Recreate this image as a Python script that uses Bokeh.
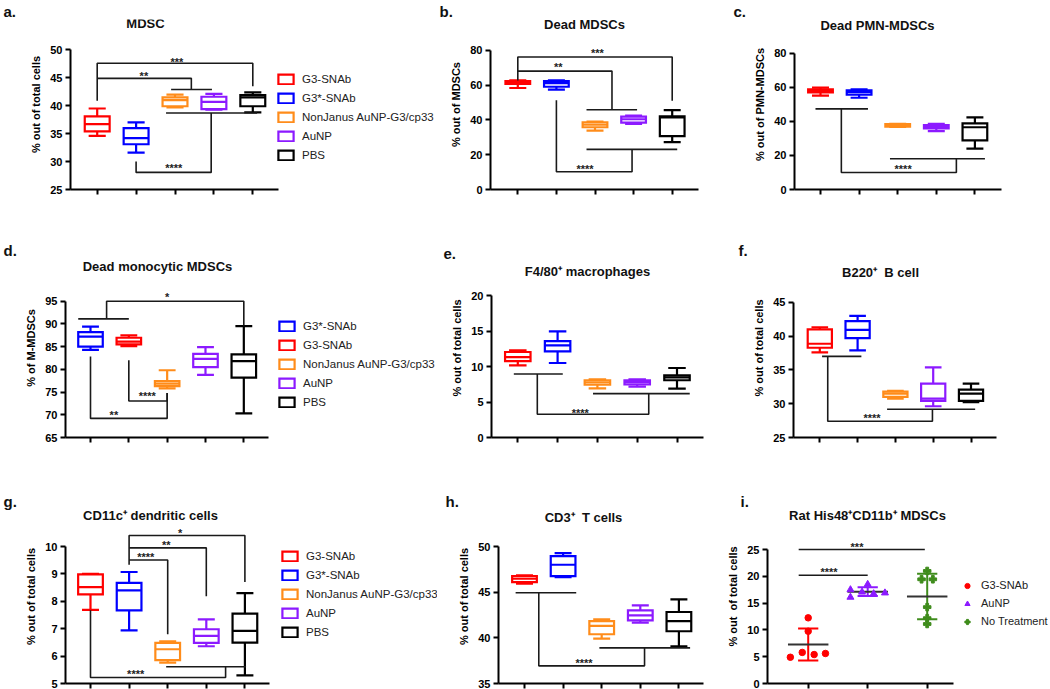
import numpy as np
from bokeh.plotting import figure
from bokeh.layouts import column, row
from bokeh.models import Label, Legend, LegendItem, FixedTicker, Range1d, ColumnDataSource, Title
from bokeh.embed import file_html
from bokeh.resources import INLINE

# ---------------- data ----------------
box_groups = ["G3-SNAb", "G3*-SNAb", "NonJanus AuNP-G3/cp33", "AuNP", "PBS"]
box_groups_d = ["G3*-SNAb", "G3-SNAb", "NonJanus AuNP-G3/cp33", "AuNP", "PBS"]

a_low = [34.6, 31.6, 39.7, 39.3, 38.8]
a_q1 = [35.4, 33.1, 39.9, 39.4, 39.9]
a_med = [36.7, 34.2, 41.0, 40.7, 41.5]
a_q3 = [38.1, 36.0, 41.5, 41.6, 41.9]
a_high = [39.5, 37.0, 42.0, 42.1, 42.4]

b_low = [58.4, 57.4, 33.9, 37.7, 27.3]
b_q1 = [60.7, 59.1, 35.8, 38.5, 30.7]
b_med = [61.6, 61.2, 37.3, 40.4, 41.5]
b_q3 = [62.4, 62.4, 38.7, 41.9, 42.1]
b_high = [62.8, 62.8, 39.0, 42.5, 45.7]

c_low = [55.1, 53.8, 36.7, 34.2, 24.0]
c_q1 = [57.0, 55.7, 36.9, 35.8, 28.8]
c_med = [57.8, 57.2, 37.7, 36.7, 36.5]
c_q3 = [58.7, 58.2, 38.3, 37.7, 38.8]
c_high = [59.7, 58.7, 38.5, 38.5, 42.3]

d_low = [84.3, 85.1, 75.8, 78.8, 70.3]
d_q1 = [85.0, 85.5, 76.3, 80.5, 78.2]
d_med = [87.2, 86.1, 76.85, 82.3, 81.8]
d_q3 = [88.2, 86.95, 77.4, 83.4, 83.3]
d_high = [89.4, 87.5, 79.8, 84.9, 89.5]

e_low = [10.16, 10.49, 6.93, 7.17, 6.89]
e_q1 = [10.77, 12.13, 7.45, 7.49, 8.06]
e_med = [11.33, 12.97, 7.78, 7.82, 8.48]
e_q3 = [12.04, 13.58, 8.06, 8.06, 8.76]
e_high = [12.27, 14.94, 8.2, 8.2, 9.79]

f_low = [37.58, 37.87, 30.75, 29.62, 30.21]
f_q1 = [38.27, 39.7, 31.0, 30.4, 30.4]
f_med = [38.86, 40.92, 31.49, 30.75, 31.49]
f_q3 = [40.97, 42.2, 31.78, 32.96, 32.08]
f_high = [41.3, 42.98, 31.88, 35.37, 32.96]

g_low = [7.69, 6.94, 5.76, 6.36, 5.30]
g_q1 = [8.25, 7.67, 5.85, 6.48, 6.49]
g_med = [8.52, 8.40, 6.25, 6.74, 6.92]
g_q3 = [8.98, 8.67, 6.48, 6.98, 7.55]
g_high = [9.0, 9.07, 6.54, 7.34, 8.30]

h_low = [45.92, 46.65, 39.91, 41.66, 39.08]
h_q1 = [46.1, 46.76, 40.39, 41.92, 40.72]
h_med = [46.47, 48.0, 41.3, 42.46, 41.84]
h_q3 = [46.76, 48.94, 41.84, 43.0, 42.83]
h_high = [46.83, 49.27, 42.03, 43.55, 44.21]

i_groups = ["G3-SNAb", "AuNP", "No Treatment"]
i_g3 = [4.9, 5.8, 12.25, 9.75, 5.4, 5.6]
i_g3_dx = [-0.30, -0.10, 0.0, 0.0, 0.10, 0.29]
i_aunp = [17.5, 16.1, 17.06, 18.5, 16.75, 16.9]
i_aunp_dx = [-0.29, -0.29, -0.095, 0.0, 0.10, 0.29]
i_nt = [21.0, 19.44, 19.44, 14.25, 12.19, 11.1]
i_nt_dx = [0.0, -0.095, 0.095, 0.0, 0.0, 0.0]

# significance annotations: brackets (x_left, x_right, y_bar, y_left_end, y_right_end)
a_brackets = [(1, 5, 47.6, 40.9, 43.5), (1, 3.42, 44.9, 44.9, 42.9), (2, 3.93, 28.06, 30.0, 38.7)]
a_groups = [(2.9, 3.95, 42.9), (2.77, 5.11, 38.7)]
a_stars = [(3.05, 48.4, "***"), (2.2, 45.9, "**"), (2.97, 29.4, "****")]

b_brackets = [(1, 5, 76.2, 62.7, 51.0), (1, 3.44, 68.1, 68.1, 45.9), (2, 3.96, 10.2, 51.4, 23.1)]
b_groups = [(2.78, 4.09, 45.9), (2.78, 5.13, 23.1)]
b_stars = [(3.06, 80.4, "***"), (2.05, 72.2, "**"), (2.74, 13.6, "****")]

c_brackets = [(1.54, 4.52, 10.0, 47.3, 18.0)]
c_groups = [(0.87, 2.23, 47.3), (2.80, 5.26, 18.0)]
c_stars = [(3.14, 13.9, "****")]

d_brackets = [(1.42, 5, 95.0, 91.1, 89.66), (1, 3, 69.2, 82.85, 74.8), (2, 3, 73.05, 82.0, 74.8)]
d_groups = [(0.68, 2.0, 91.1)]
d_stars = [(3.0, 96.6, "*"), (2.48, 74.9, "****"), (1.61, 70.6, "**")]

e_brackets = [(1.49, 4.29, 3.28, 8.95, 6.18)]
e_groups = [(0.9, 2.13, 8.95), (2.89, 5.32, 6.18)]
e_stars = [(2.57, 3.93, "****")]

f_brackets = [(1.21, 3.98, 27.41, 36.99, 29.18)]
f_groups = [(1.06, 2.1, 36.99), (2.78, 5.11, 29.18)]
f_stars = [(2.38, 28.3, "****")]

g_brackets = [(2, 5, 10.4, 9.33, 8.70), (2, 4, 9.95, 9.95, 8.18), (2, 3, 9.51, 9.51, 6.80), (1, 4.5, 5.22, 7.67, 5.61)]
g_groups = [(2.96, 5.03, 5.61)]
g_stars = [(3.32, 10.62, "*"), (2.96, 10.16, "**"), (2.43, 9.71, "****"), (2.17, 5.46, "****")]

h_brackets = [(1.37, 4.11, 36.93, 44.94, 38.9)]
h_groups = [(0.77, 2.34, 44.94), (2.94, 5.29, 38.9)]
h_stars = [(2.54, 37.55, "****")]

i_brackets = [(0.84, 2.96, 25.0, 25.0, 25.0), (0.84, 2.0, 20.2, 20.2, 20.2)]
i_stars = [(1.82, 26.0, "***"), (1.35, 21.4, "****")]

# ---------------- style / layout ----------------
FONT = "Liberation Sans"
RED, BLUE, ORANGE, PURPLE, BLACK = "#ff0000", "#0000ff", "#ff8c1a", "#8c1aff", "#000000"
GREEN = "#3f8c1c"
colors_std = [RED, BLUE, ORANGE, PURPLE, BLACK]
colors_d = [BLUE, RED, ORANGE, PURPLE, BLACK]
INK = "#1a1a1a"

COL_X = [0, 437, 720, 1050]
ROW_Y = [0, 230, 460, 689]
ROW_TOP = [17, 28, 49]


def make_panel(ci, ri, lay, ylo, yhi, yticks, ylabel, ncat=5):
    FL, FR, AT, FB, c1, s = lay
    cl, cr = COL_X[ci], COL_X[ci + 1]
    rt, rb = ROW_Y[ri], ROW_Y[ri + 1]
    W, H = cr - cl, rb - rt
    bl = int(round(FL - cl))
    bb = int(round(rb - FB))
    bt = ROW_TOP[ri]
    f_left = cl + bl
    f_bottom = rb - bb
    fw, fh = W - bl, H - bb - bt
    x0 = 1 + (f_left - c1) / s
    x1 = x0 + fw / s
    k = (f_bottom - AT) / (yhi - ylo)
    y0 = ylo
    y1 = y0 + fh / k
    p = figure(width=W, height=H, x_range=Range1d(x0, x1), y_range=Range1d(y0, y1),
               min_border_left=bl, min_border_right=0, min_border_top=bt, min_border_bottom=bb,
               output_backend="svg", toolbar_location=None, outline_line_color=None)
    p.grid.visible = False
    p.xaxis.ticker = FixedTicker(ticks=[], minor_ticks=list(range(1, ncat + 1)))
    p.xaxis.major_label_standoff = 0
    p.xaxis.bounds = (x0, 1 + (FR - c1) / s)
    p.yaxis.ticker = FixedTicker(ticks=yticks, minor_ticks=[])
    p.yaxis.bounds = (ylo, yhi)
    for ax in (p.xaxis[0], p.yaxis[0]):
        ax.axis_line_width = 2
        ax.axis_line_color = "black"
        ax.major_tick_line_width = 2
        ax.major_tick_line_color = "black"
        ax.major_tick_out = 5
        ax.major_tick_in = 0
    p.xaxis.minor_tick_out = 5
    p.xaxis.minor_tick_in = 0
    p.xaxis.minor_tick_line_width = 2
    p.xaxis.minor_tick_line_color = "black"
    p.yaxis.minor_tick_out = 0
    p.yaxis.minor_tick_in = 0
    p.yaxis.major_label_text_font = FONT
    p.yaxis.major_label_text_font_size = "11px"
    p.yaxis.major_label_text_font_style = "bold"
    p.yaxis.major_label_text_color = "black"
    p.yaxis.major_label_standoff = 3
    p.yaxis.axis_label = ylabel
    p.yaxis.axis_label_text_font = FONT
    p.yaxis.axis_label_text_font_size = "11px"
    p.yaxis.axis_label_text_font_style = "bold"
    p.yaxis.axis_label_text_color = "black"
    p.yaxis.axis_label_standoff = 5
    return p, f_left, f_bottom


def img_text(p, fl, fb, x, y, text, size, align="center", bold=True):
    p.add_layout(Label(x=x - fl, y=fb - y, x_units="screen", y_units="screen", text=text,
                       text_font=FONT, text_font_size=size,
                       text_font_style="bold" if bold else "normal",
                       text_align=align, text_baseline="middle", text_color="#111111"))


def add_letter(p, fl, x, text):
    p.add_layout(Title(text=text, align="left", offset=x - fl, standoff=0, text_font=FONT,
                       text_font_size="15px", text_font_style="bold", text_color="#111111"), "above")


def draw_boxes(p, low, q1, med, q3, high, colors):
    x = np.arange(1, len(low) + 1, dtype=float)
    src = ColumnDataSource(dict(x=x, lo=low, q1=q1, med=med, q3=q3, hi=high, color=colors,
                                bl=x - 0.32, br=x + 0.32, cl=x - 0.22, cr=x + 0.22))
    p.segment(x0="x", y0="lo", x1="x", y1="q1", source=src, line_color="color", line_width=2.2)
    p.segment(x0="x", y0="q3", x1="x", y1="hi", source=src, line_color="color", line_width=2.2)
    p.segment(x0="cl", y0="lo", x1="cr", y1="lo", source=src, line_color="color", line_width=2.2)
    p.segment(x0="cl", y0="hi", x1="cr", y1="hi", source=src, line_color="color", line_width=2.2)
    r = p.quad(left="bl", right="br", bottom="q1", top="q3", source=src, fill_color="white",
               line_color="color", line_width=2.2, line_join="miter")
    p.segment(x0="bl", y0="med", x1="br", y1="med", source=src, line_color="color", line_width=2.2)
    return r


def draw_sig(p, brackets, groups, stars):
    xs, ys = [], []
    for (xl, xr, yb, yle, yre) in brackets:
        xs.append([xl, xl, xr, xr])
        ys.append([yle, yb, yb, yre])
    for (ga, gb, gy) in groups:
        xs.append([ga, gb])
        ys.append([gy, gy])
    p.multi_line(xs=xs, ys=ys, line_color=INK, line_width=1.6)
    for (sx, sy, st) in stars:
        p.add_layout(Label(x=sx, y=sy, text=st, text_font=FONT, text_font_size="11px",
                           text_font_style="bold", text_align="center", text_baseline="middle",
                           text_color="#222222", y_offset=-3))


def add_legend(p, fl, fb, renderer, labels, gx, gy0, stride):
    items = [LegendItem(label=lab, renderers=[renderer], index=i) for i, lab in enumerate(labels)]
    lh = 13
    sp = int(round(stride - lh))
    H = len(labels) * lh + (len(labels) - 1) * sp
    top_img = gy0 - lh / 2
    leg = Legend(items=items, location=(gx - fl, (fb - top_img) - H), padding=0, margin=0,
                 spacing=sp, label_height=lh, glyph_height=12, glyph_width=19, label_standoff=7,
                 label_text_font=FONT, label_text_font_size="11.5px", label_text_color="#222222",
                 border_line_alpha=0, background_fill_alpha=0)
    p.add_layout(leg)


# ---------------- panels ----------------
panels = []

# a
p, fl, fb = make_panel(0, 0, (70, 278, 47.7, 189, 96.7, 38.9), 25, 50, [25, 30, 35, 40, 45, 50], "% out of total cells")
r = draw_boxes(p, a_low, a_q1, a_med, a_q3, a_high, colors_std)
draw_sig(p, a_brackets, a_groups, a_stars)
add_legend(p, fl, fb, r, box_groups, 276, 79, 19.5)
img_text(p, fl, fb, 145, 23, "MDSC", "13px")
add_letter(p, fl, 3, "a.")
panels.append(p)

# b
p, fl, fb = make_panel(1, 0, (490, 698, 48.3, 189, 517.3, 38.6), 0, 80, [0, 20, 40, 60, 80], "% out of MDSCs")
draw_boxes(p, b_low, b_q1, b_med, b_q3, b_high, colors_std)
draw_sig(p, b_brackets, b_groups, b_stars)
img_text(p, fl, fb, 584, 24, "Dead MDSCs", "13px")
add_letter(p, fl, 439, "b.")
panels.append(p)

# c
p, fl, fb = make_panel(2, 0, (794, 1001, 51, 189, 820, 38.6), 0, 80, [0, 20, 40, 60, 80], "% out of PMN-MDSCs")
draw_boxes(p, c_low, c_q1, c_med, c_q3, c_high, colors_std)
draw_sig(p, c_brackets, c_groups, c_stars)
img_text(p, fl, fb, 877, 25, "Dead PMN-MDSCs", "13px")
add_letter(p, fl, 733, "c.")
panels.append(p)

row1 = row(*panels)
panels = []

# d
p, fl, fb = make_panel(0, 1, (65, 268, 300.7, 437.3, 90, 38.33), 65, 95, [65, 70, 75, 80, 85, 90, 95], "% of M-MDSCs")
r = draw_boxes(p, d_low, d_q1, d_med, d_q3, d_high, colors_d)
draw_sig(p, d_brackets, d_groups, d_stars)
add_legend(p, fl, fb, r, box_groups_d, 277, 326, 19)
img_text(p, fl, fb, 157, 266, "Dead monocytic MDSCs", "13px")
add_letter(p, fl, 3, "d.")
panels.append(p)

# e
p, fl, fb = make_panel(1, 1, (490.7, 703.3, 295, 437.3, 517.3, 39.8), 0, 20, [0, 5, 10, 15, 20], "% out of total cells")
draw_boxes(p, e_low, e_q1, e_med, e_q3, e_high, colors_std)
draw_sig(p, e_brackets, e_groups, e_stars)
img_text(p, fl, fb, 587, 271, "F4/80\u207a macrophages", "13px")
add_letter(p, fl, 443, "e.")
panels.append(p)

# f
p, fl, fb = make_panel(2, 1, (793.3, 996, 301.7, 437.3, 819.3, 37.8), 25, 45, [25, 30, 35, 40, 45], "% out of total cells")
draw_boxes(p, f_low, f_q1, f_med, f_q3, f_high, colors_std)
draw_sig(p, f_brackets, f_groups, f_stars)
img_text(p, fl, fb, 880, 272, "B220\u207a\u00a0 B cell", "13px")
add_letter(p, fl, 738, "f.")
panels.append(p)

row2 = row(*panels)
panels = []

# g
p, fl, fb = make_panel(0, 2, (65, 269, 546, 683.3, 90, 38.6), 5, 10, [5, 6, 7, 8, 9, 10], "% out of total cells")
r = draw_boxes(p, g_low, g_q1, g_med, g_q3, g_high, colors_std)
draw_sig(p, g_brackets, g_groups, g_stars)
add_legend(p, fl, fb, r, box_groups, 280, 556, 19.3)
img_text(p, fl, fb, 150, 515, "CD11c\u207a dendritic cells", "13px")
add_letter(p, fl, 3, "g.")
panels.append(p)

# h
p, fl, fb = make_panel(1, 2, (497.7, 703.3, 546, 683.3, 524, 38.6), 35, 50, [35, 40, 45, 50], "% out of total cells")
draw_boxes(p, h_low, h_q1, h_med, h_q3, h_high, colors_std)
draw_sig(p, h_brackets, h_groups, h_stars)
img_text(p, fl, fb, 583, 517, "CD3\u207a\u00a0 T cells", "13px")
add_letter(p, fl, 445, "h.")
panels.append(p)

# i
p, fl, fb = make_panel(2, 2, (767, 953, 549, 682.7, 807.7, 59.5), 0, 25, [0, 5, 10, 15, 20, 25], "% out\u00a0 of total cells", ncat=3)
i_vals = [i_g3, i_aunp, i_nt]
i_dxs = [i_g3_dx, i_aunp_dx, i_nt_dx]
i_colors = [RED, PURPLE, GREEN]
i_markers = ["circle", "triangle", "plus"]
i_sizes = [6.5, 7, 7.5]
items = []
for gi, (vals, dxs, col, mk, sz) in enumerate(zip(i_vals, i_dxs, i_colors, i_markers, i_sizes)):
    xc = gi + 1
    v = np.array(vals)
    m, sd = v.mean(), v.std(ddof=1)
    p.segment(x0=[xc], y0=[m - sd], x1=[xc], y1=[m + sd], line_color=col, line_width=2)
    p.segment(x0=[xc - 0.17, xc - 0.17], y0=[m - sd, m + sd], x1=[xc + 0.17, xc + 0.17], y1=[m - sd, m + sd],
              line_color=col, line_width=2)
    p.segment(x0=[xc - 0.34], y0=[m], x1=[xc + 0.34], y1=[m], line_color="#333333", line_width=2)
    sr = p.scatter(x=list(xc + np.array(dxs)), y=vals, marker=mk, size=sz, fill_color=col, line_color=col)
    items.append(LegendItem(label=i_groups[gi], renderers=[sr]))
draw_sig(p, i_brackets, [], i_stars)
leg = Legend(items=items, location=(960 - fl, (fb - (585 - 6.5)) - (3 * 13 + 2 * 5)), padding=0, margin=0,
             spacing=5, label_height=13, glyph_height=13, glyph_width=14, label_standoff=7,
             label_text_font=FONT, label_text_font_size="11px", label_text_color="#222222",
             border_line_alpha=0, background_fill_alpha=0)
p.add_layout(leg)
img_text(p, fl, fb, 867, 515, "Rat His48\u207aCD11b\u207a MDSCs", "13px")
add_letter(p, fl, 740, "i.")
panels.append(p)

row3 = row(*panels)

layout = column(row1, row2, row3)
open("out.html", "w").write(file_html(layout, INLINE))
